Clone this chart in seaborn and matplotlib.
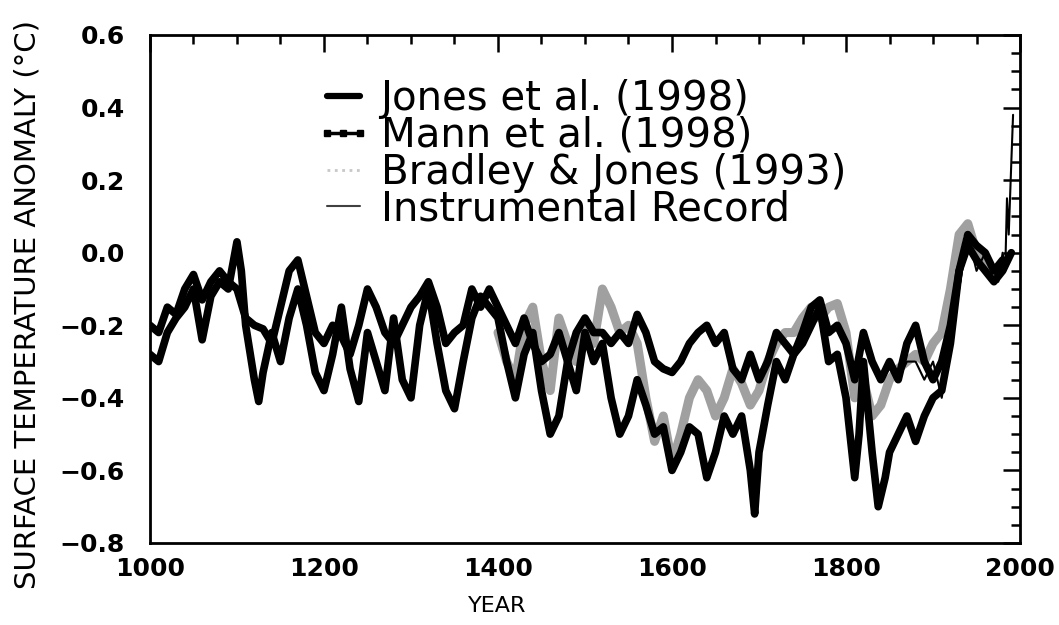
import numpy as np
import pandas as pd
import matplotlib
matplotlib.use("Agg")
import matplotlib.pyplot as plt
from matplotlib.lines import Line2D
from matplotlib.ticker import MultipleLocator, FuncFormatter
import seaborn as sns

# --- data (approximate) ---
jones_years = [1000, 1010, 1020, 1030, 1040, 1050, 1060, 1070, 1080, 1090, 1100, 1105,
               1110, 1120, 1125, 1130, 1140, 1150, 1160, 1170, 1180, 1190, 1200, 1210,
               1220, 1230, 1240, 1250, 1260, 1270, 1280, 1290, 1300, 1310, 1320, 1330,
               1340, 1350, 1360, 1370, 1380, 1390, 1400, 1410, 1420, 1430, 1440, 1450,
               1460, 1470, 1480, 1490, 1500, 1510, 1520, 1530, 1540, 1550, 1560, 1570,
               1580, 1590, 1600, 1610, 1620, 1630, 1640, 1650, 1660, 1670, 1680, 1690,
               1695, 1700, 1710, 1720, 1730, 1740, 1750, 1760, 1770, 1780, 1790, 1800,
               1810, 1815, 1820, 1830, 1837, 1845, 1850, 1860, 1870, 1880, 1890, 1900,
               1910, 1920, 1930, 1940, 1950, 1960, 1970, 1980, 1990]
jones_vals = [-0.28, -0.30, -0.22, -0.18, -0.15, -0.10, -0.24, -0.12, -0.08, -0.10, 0.03, -0.05,
              -0.20, -0.35, -0.41, -0.33, -0.22, -0.30, -0.18, -0.10, -0.20, -0.33, -0.38, -0.28,
              -0.15, -0.32, -0.41, -0.22, -0.30, -0.38, -0.18, -0.35, -0.40, -0.20, -0.10, -0.25,
              -0.38, -0.43, -0.30, -0.18, -0.12, -0.15, -0.18, -0.30, -0.40, -0.28, -0.22, -0.38,
              -0.50, -0.45, -0.30, -0.38, -0.22, -0.30, -0.25, -0.40, -0.50, -0.45, -0.35, -0.42,
              -0.50, -0.48, -0.60, -0.55, -0.48, -0.50, -0.62, -0.55, -0.45, -0.50, -0.45, -0.60,
              -0.72, -0.55, -0.42, -0.30, -0.35, -0.28, -0.25, -0.20, -0.15, -0.30, -0.28, -0.40,
              -0.62, -0.50, -0.30, -0.55, -0.70, -0.62, -0.55, -0.50, -0.45, -0.52, -0.45, -0.40,
              -0.38, -0.25, -0.05, 0.02, -0.02, -0.05, -0.08, -0.05, 0.00]

mann_years = list(range(1000, 1990, 10))
mann_vals = [-0.20, -0.22, -0.15, -0.17, -0.10, -0.06, -0.13, -0.08, -0.05, -0.08,
             -0.10, -0.18, -0.20, -0.21, -0.25, -0.15, -0.05, -0.02, -0.12, -0.22,
             -0.25, -0.20, -0.23, -0.28, -0.20, -0.10, -0.15, -0.22, -0.25, -0.20,
             -0.15, -0.12, -0.08, -0.15, -0.25, -0.22, -0.20, -0.10, -0.15, -0.10,
             -0.15, -0.20, -0.25, -0.18, -0.25, -0.30, -0.28, -0.22, -0.30, -0.22,
             -0.18, -0.22, -0.22, -0.25, -0.22, -0.25, -0.17, -0.22, -0.30, -0.32,
             -0.33, -0.30, -0.25, -0.22, -0.20, -0.25, -0.22, -0.32, -0.35, -0.28,
             -0.35, -0.30, -0.22, -0.25, -0.28, -0.22, -0.15, -0.13, -0.22, -0.20,
             -0.25, -0.35, -0.22, -0.30, -0.35, -0.30, -0.35, -0.25, -0.20, -0.30,
             -0.35, -0.30, -0.20, -0.05, 0.05, 0.02, 0.00, -0.05, -0.02]

bradley_years = list(range(1400, 1980, 10))
bradley_vals = [-0.22, -0.30, -0.35, -0.20, -0.15, -0.30, -0.38, -0.18, -0.25, -0.30,
                -0.20, -0.25, -0.10, -0.15, -0.22, -0.20, -0.25, -0.40, -0.52, -0.45,
                -0.58, -0.50, -0.40, -0.35, -0.38, -0.45, -0.40, -0.32, -0.36, -0.42,
                -0.38, -0.30, -0.25, -0.22, -0.22, -0.18, -0.15, -0.18, -0.15, -0.14,
                -0.22, -0.40, -0.35, -0.45, -0.42, -0.35, -0.32, -0.30, -0.28, -0.30,
                -0.25, -0.22, -0.10, 0.05, 0.08, 0.00, -0.02, -0.05]

instr_years = [1860, 1870, 1880, 1890, 1900, 1910, 1920, 1930, 1940, 1950, 1960, 1970,
               1975, 1980, 1983, 1985, 1987, 1990, 1992]
instr_vals = [-0.35, -0.30, -0.30, -0.35, -0.30, -0.40, -0.25, -0.10, 0.05, -0.05, 0.00, -0.05,
              -0.08, 0.00, -0.05, 0.15, 0.05, 0.25, 0.38]

labels = ["Jones et al. (1998)", "Mann et al. (1998)",
          "Bradley & Jones (1993)", "Instrumental Record"]

sns.set_style("white")
plt.rcParams['font.family'] = ['DejaVu Sans']
plt.rcParams['text.color'] = 'black'
plt.rcParams['axes.labelcolor'] = 'black'
plt.rcParams['xtick.color'] = 'black'
plt.rcParams['ytick.color'] = 'black'

fig = plt.figure(figsize=(10.59, 6.25), dpi=100)
ax = fig.add_axes([0.1416, 0.1312, 0.8216, 0.8128])

sns.lineplot(x=bradley_years, y=bradley_vals, ax=ax, color="#a0a0a0", linewidth=6.5, zorder=1)
sns.lineplot(x=mann_years, y=mann_vals, ax=ax, color="black", linewidth=5.5, zorder=2)
sns.lineplot(x=jones_years, y=jones_vals, ax=ax, color="black", linewidth=5.5, zorder=3)
sns.lineplot(x=instr_years, y=instr_vals, ax=ax, color="black", linewidth=1.5, zorder=4)

ax.set_xlim(1000, 2000)
ax.set_ylim(-0.8, 0.6)
ax.xaxis.set_major_locator(MultipleLocator(200))
ax.xaxis.set_minor_locator(MultipleLocator(50))
ax.yaxis.set_major_locator(MultipleLocator(0.2))
ax.yaxis.set_minor_locator(MultipleLocator(0.05))
ax.yaxis.set_major_formatter(FuncFormatter(lambda v, p: f"{v:.1f}".replace("-", "\u2212")))

ax.tick_params(which='both', direction='in', top=True, right=True, width=1.8, color='black')
ax.tick_params(which='major', length=12)
ax.tick_params(which='minor', length=6.5)
ax.tick_params(axis='x', which='major', labelsize=18, pad=10)
ax.tick_params(axis='y', which='major', labelsize=18, pad=18)
for lbl in ax.get_xticklabels() + ax.get_yticklabels():
    lbl.set_fontweight('bold')

for sp in ax.spines.values():
    sp.set_color('black')
    sp.set_linewidth(2)

ax.set_xlabel("YEAR", fontsize=16)
ax.xaxis.set_label_coords(0.399, -0.105)
ax.set_ylabel("SURFACE TEMPERATURE ANOMALY (°C)", fontsize=21)
ax.yaxis.set_label_coords(-0.125, 0.47)

handles = [
    Line2D([], [], color='black', linewidth=4.5),
    Line2D([], [], color='black', linewidth=2.5, marker='s', markersize=4.5),
    Line2D([], [], color='#c8c8c8', linewidth=2, linestyle=':'),
    Line2D([], [], color='#404040', linewidth=1.5),
]
leg = ax.legend(handles, labels, loc='upper left', bbox_to_anchor=(0.19, 0.913),
                frameon=False, fontsize=29, numpoints=3, handlelength=1.4,
                handletextpad=0.22, labelspacing=-0.08, borderpad=0, borderaxespad=0)
for t in leg.get_texts():
    t.set_color('black')

fig.savefig("out.png", dpi=100, facecolor='white')
